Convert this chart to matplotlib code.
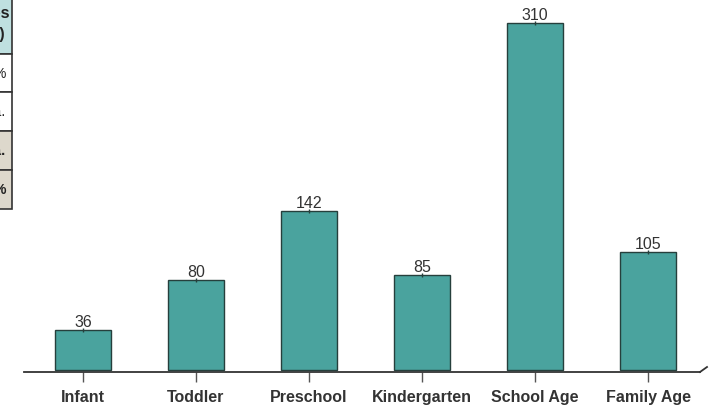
import matplotlib
matplotlib.use("Agg")
import matplotlib.pyplot as plt
from matplotlib.patches import Rectangle

categories = ["Infant", "Toddler", "Preschool", "Kindergarten", "School Age", "Family Age"]
values = [36, 80, 142, 85, 310, 105]

# partially visible side table (cut off at left edge, as in the reference)
table_header = ["Classes", "(%)"]
table_rows = ["12.0%", "n.a.", "n.a.", "100%"]
table_bold = [False, False, True, True]
table_fill = ["#ffffff", "#ffffff", "#ddd8cc", "#ddd8cc"]

plt.rcParams['font.family'] = ['Liberation Sans', 'DejaVu Sans']

W, H = 712, 406
fig = plt.figure(figsize=(W / 100, H / 100), dpi=100)

def fx(px):
    return px / W

def fy(py):
    return 1 - py / H

ax = fig.add_axes([fx(24), fy(373), fx(700) - fx(24), fy(10) - fy(373)])
x = list(range(len(categories)))
ax.bar(x, values, width=0.5, color="#4aa39e", edgecolor="#263f3c", linewidth=1.0, zorder=3)
for xi, v in zip(x, values):
    ax.annotate(str(v), (xi, v), xytext=(0, 0.8), textcoords="offset points",
                ha="center", va="bottom", fontsize=11.5, color="#333333")
    ax.plot([xi], [v], marker="|", markersize=2.5, color="#263f3c", zorder=4)

ax.set_xlim(-0.522, 5.46)
ax.set_ylim(-1.8, 322.6)
for s in ["top", "right", "left"]:
    ax.spines[s].set_visible(False)
ax.spines["bottom"].set_color("#333333")
ax.spines["bottom"].set_linewidth(1.3)
ax.plot([1, 1 + 7 / 676], [0, 5 / 363], transform=ax.transAxes, color="#333333",
        linewidth=1.3, clip_on=False)
ax.set_yticks([])
ax.set_xticks(x)
ax.set_xticklabels(categories, fontsize=11.5, fontweight="bold", color="#333333")
ax.tick_params(axis="x", direction="out", length=7, width=1, color="#555555", pad=5)

# side table
right = 12
bounds = [0, 55, 93, 132, 171, 210]
fig.patches.append(Rectangle((fx(-100), fy(bounds[1])), fx(right + 100), fy(bounds[0]) - fy(bounds[1]),
                             transform=fig.transFigure, facecolor="#bfe0e0", edgecolor="#333333",
                             linewidth=1.2))
fig.text(fx(10), fy(14), table_header[0], ha="right", va="center", fontsize=11.5,
         fontweight="bold", color="#222222")
fig.text(fx(5), fy(34), table_header[1], ha="right", va="center", fontsize=11.5,
         fontweight="bold", color="#222222")
for i, (txt, b, col) in enumerate(zip(table_rows, table_bold, table_fill)):
    y0, y1 = bounds[i + 1], bounds[i + 2]
    fig.patches.append(Rectangle((fx(-100), fy(y1)), fx(right + 100), fy(y0) - fy(y1),
                                 transform=fig.transFigure, facecolor=col, edgecolor="#333333",
                                 linewidth=1.2))
    fig.text(fx(7 if txt.endswith('%') else 5), fy((y0 + y1) / 2), txt, ha="right", va="center",
             fontsize=10.5, fontweight="bold" if b else "normal", color="#222222")

fig.savefig("out.png", dpi=100)
